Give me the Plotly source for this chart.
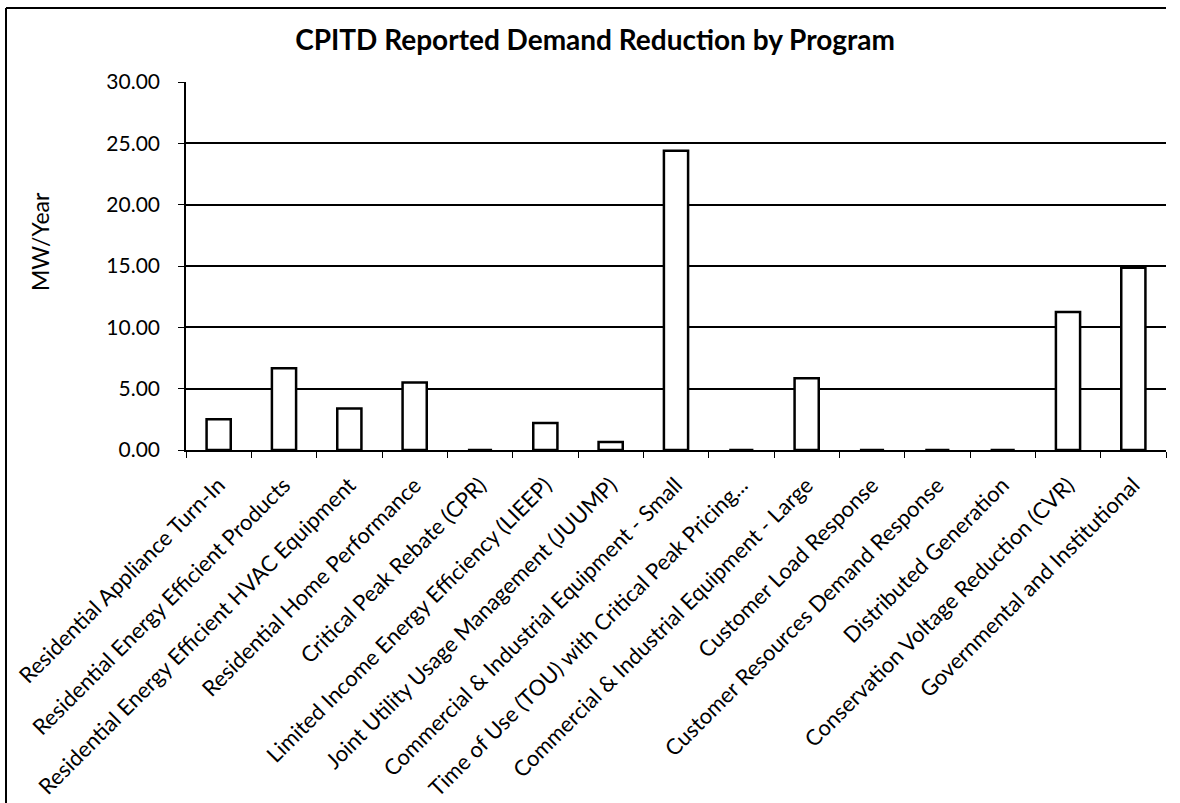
import plotly.graph_objects as go

# Data
programs = [
    "Residential Appliance Turn-In",
    "Residential Energy Efficient Products",
    "Residential Energy Efficient HVAC Equipment",
    "Residential Home Performance",
    "Critical Peak Rebate (CPR)",
    "Limited Income Energy Efficiency (LIEEP)",
    "Joint Utility Usage Management (JUUMP)",
    "Commercial & Industrial Equipment - Small",
    "Time of Use (TOU) with Critical Peak Pricing...",
    "Commercial & Industrial Equipment - Large",
    "Customer Load Response",
    "Customer Resources Demand Response",
    "Distributed Generation",
    "Conservation Voltage Reduction (CVR)",
    "Governmental and Institutional",
]
mw_per_year = [2.50, 6.67, 3.38, 5.50, 0.0, 2.20, 0.66, 24.40, 0.0, 5.85, 0.0, 0.0, 0.0, 11.25, 14.85]
y_ticks = [0, 5, 10, 15, 20, 25, 30]

FONT = "Lato, 'Open Sans', sans-serif"

fig = go.Figure()
fig.add_trace(go.Bar(
    x=programs, y=mw_per_year, width=0.37,
    marker=dict(color="white", line=dict(color="black", width=2.5)),
))

fig.update_layout(
    width=1180, height=803,
    margin=dict(l=186, r=14, t=82, b=353),
    paper_bgcolor="white", plot_bgcolor="white",
    showlegend=False,
    font=dict(family=FONT, color="black"),
    title=dict(text="<b>CPITD Reported Demand Reduction by Program</b>",
               x=595 / 1180, xref="container", xanchor="center",
               y=1 - 40 / 803, yref="container", yanchor="middle",
               font=dict(size=28, family=FONT)),
    xaxis=dict(type="category", tickangle=-45, tickfont=dict(size=22),
               ticklabelstandoff=12, automargin=False,
               showline=True, linecolor="black", linewidth=1.5,
               ticks="outside", tickson="boundaries", ticklen=6, tickcolor="black",
               showgrid=False),
    yaxis=dict(range=[0, 30], tickvals=y_ticks, tickformat=".2f",
               tickfont=dict(size=21), ticklabelstandoff=14, automargin=False,
               showline=True, linecolor="black", linewidth=1.5,
               ticks="outside", ticklen=6, tickcolor="black",
               showgrid=True, gridcolor="black", gridwidth=1.5, zeroline=False),
)

# y axis title placed like the original
fig.add_annotation(text="MW/Year", xref="paper", yref="paper",
                   x=(40 - 186) / 980, y=(450 - 242) / 368,
                   xanchor="center", yanchor="middle",
                   textangle=-90, showarrow=False, font=dict(size=23, family=FONT))

# outer chart frame (top and left edges visible)
fig.add_shape(type="line", xref="paper", yref="paper",
              x0=(6 - 186) / 980, x1=1.0, y0=(450 - 8) / 368, y1=(450 - 8) / 368,
              line=dict(color="black", width=2))
fig.add_shape(type="line", xref="paper", yref="paper",
              x0=(6 - 186) / 980, x1=(6 - 186) / 980, y0=(450 - 8) / 368, y1=(450 - 803) / 368,
              line=dict(color="black", width=2))

fig.write_html("out.html", config={"displayModeBar": False},
               post_script="document.body.style.margin='0px';")
